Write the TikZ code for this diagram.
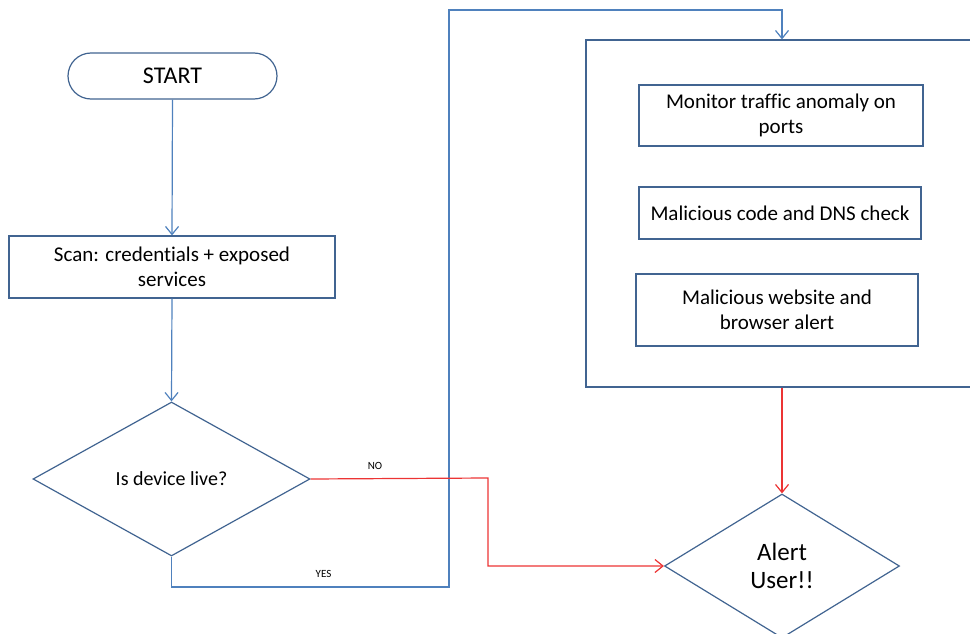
\documentclass[tikz,border=0pt]{standalone}
\usepackage{fontspec}
\setmainfont{Carlito}[Ligatures=NoCommon]
\usetikzlibrary{shapes.geometric,arrows.meta}

\begin{document}
\begin{tikzpicture}[x=1pt,y=1pt,yscale=-1,
  box/.style={draw={rgb,255:red,65;green,100;blue,145},line width=1.2pt,align=center,inner sep=0pt,font=\fontsize{21}{25}\selectfont},
  decision/.style={box,diamond},
  flow/.style={draw={rgb,255:red,79;green,129;blue,189},line width=1.2pt,-{Straight Barb[length=8pt,width=13pt]}},
  alarm/.style={flow,draw={rgb,255:red,236;green,52;blue,52}},
  tag/.style={font=\fontsize{11}{13}\selectfont}]
\useasboundingbox (0,0) rectangle (970,634);
\clip (0,0) rectangle (970,634);

%Start
\node [box,rounded corners=23pt,minimum width=209pt,minimum height=46pt,font=\fontsize{24}{28}\selectfont] (start) at (172.5,76) {START};

%Scan
\node [box,minimum width=326pt,minimum height=62pt] (scan) at (172,267) {Scan: credentials + exposed\\services};

%Decision: live?
\node [decision,minimum width=277pt,minimum height=154pt,font=\fontsize{20}{24}\selectfont] (live) at (171.5,479) {Is device live?};

%Checks block
\node [box,minimum width=392pt,minimum height=347pt] (checks) at (782,213.5) {};
\node [box,minimum width=284pt,minimum height=61pt] (monitor) at (781,115.5) {Monitor traffic anomaly on\\ports};
\node [box,minimum width=282pt,minimum height=52pt] (dns) at (780,213) {Malicious code and DNS check};
\node [box,minimum width=282pt,minimum height=72pt] (web) at (777,310) {Malicious website and\\browser alert};

%Alert
\node [decision,minimum width=235pt,minimum height=144pt,font=\fontsize{25}{28}\selectfont] (alert) at (782,566) {Alert\\User!!};

%Connectors
\coordinate (yesdown) at (449,587);
\coordinate (yesup) at (449,10);
\coordinate (noturn) at (488,478);

\draw [flow] (start.south) -- (scan.north);
\draw [flow] (scan.south) -- (live.north);
\draw [flow] (live.south) |- (yesdown) -- (yesup) -| (checks.north);
\draw [alarm] (live.east) -- (noturn) |- (alert.west);
\draw [alarm] (checks.south) -- (alert.north);

\node [tag] (no) at (375,465.5) {NO};
\node [tag] (yes) at (323.5,573.5) {YES};

\end{tikzpicture}
\end{document}
